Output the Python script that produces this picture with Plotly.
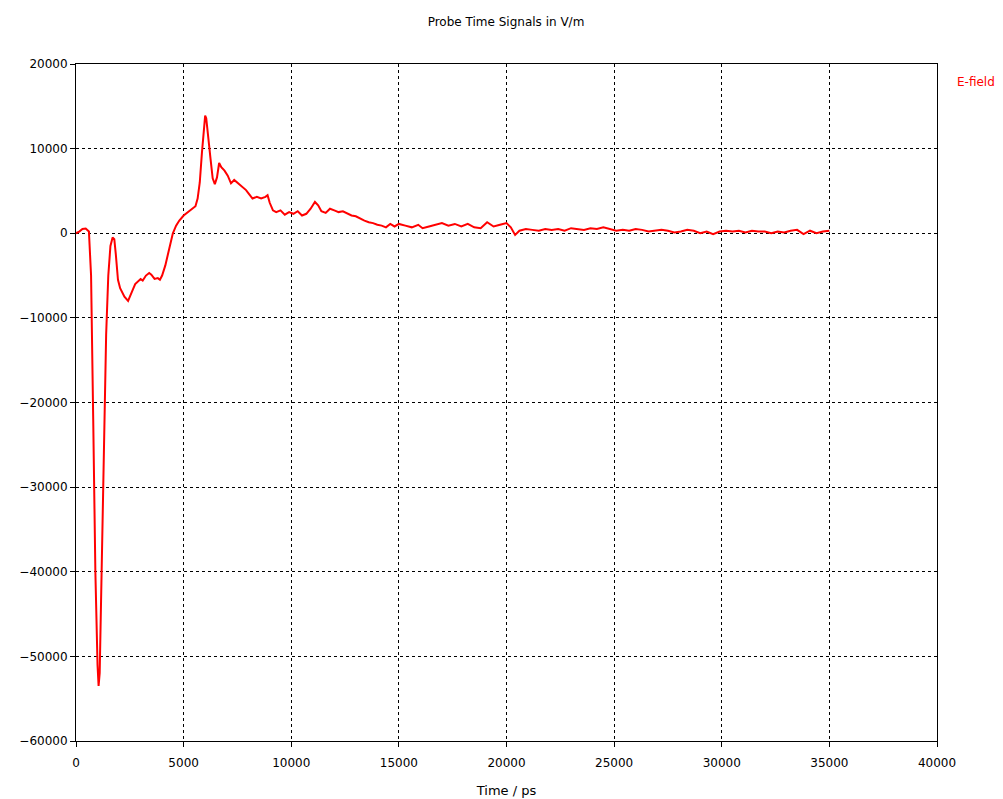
import plotly.graph_objects as go

time_ps = [0, 150, 300, 450, 600, 700, 800, 900, 1000, 1050, 1100, 1200, 1300, 1400, 1500, 1600, 1700, 1780, 1850, 1950, 2050, 2150, 2250, 2420, 2550, 2650, 2750, 2850, 3000, 3100, 3250, 3400, 3500, 3650, 3800, 3900, 4000, 4150, 4300, 4400, 4500, 4650, 4800, 5000, 5200, 5400, 5550, 5650, 5750, 5850, 5950, 6000, 6050, 6150, 6250, 6350, 6450, 6550, 6650, 6750, 6900, 7050, 7200, 7350, 7550, 7750, 7900, 8050, 8200, 8400, 8600, 8800, 8900, 9000, 9150, 9300, 9500, 9700, 9900, 10100, 10300, 10500, 10700, 10900, 11100, 11250, 11400, 11600, 11800, 12000, 12200, 12400, 12600, 12800, 13000, 13200, 13400, 13600, 13800, 14000, 14200, 14400, 14600, 14800, 15000, 15300, 15600, 15900, 16100, 16400, 16700, 17000, 17300, 17600, 17900, 18200, 18500, 18800, 19100, 19400, 19700, 20000, 20200, 20400, 20600, 20900, 21200, 21500, 21800, 22100, 22400, 22700, 23000, 23300, 23600, 23900, 24200, 24500, 24800, 25100, 25400, 25700, 26000, 26300, 26600, 26900, 27200, 27500, 27800, 28100, 28400, 28700, 29000, 29300, 29600, 29900, 30200, 30500, 30800, 31100, 31400, 31700, 32000, 32300, 32600, 32900, 33200, 33500, 33800, 34100, 34400, 34700, 35000]

efield_vm = [0, 200, 500, 550, 200, -5000, -22000, -40000, -51000, -53500, -52000, -40000, -25000, -12000, -5000, -1500, -500, -700, -2500, -5500, -6500, -7000, -7500, -8000, -7300, -6600, -6000, -5800, -5400, -5600, -5000, -4700, -4900, -5400, -5300, -5500, -5000, -3800, -2200, -1200, 0, 900, 1500, 2100, 2500, 2900, 3200, 4100, 6000, 9500, 12500, 13900, 13600, 11500, 8800, 6500, 5800, 6600, 8300, 7800, 7400, 6800, 5900, 6300, 5900, 5400, 5100, 4600, 4100, 4300, 4100, 4300, 4500, 3600, 2700, 2500, 2700, 2200, 2500, 2300, 2600, 2100, 2300, 2900, 3700, 3300, 2600, 2400, 2900, 2700, 2500, 2600, 2300, 2100, 2000, 1700, 1500, 1300, 1200, 1000, 900, 700, 1100, 800, 1100, 900, 700, 1000, 600, 800, 1000, 1200, 900, 1100, 800, 1100, 700, 600, 1300, 800, 1000, 1200, 700, -200, 300, 500, 400, 300, 500, 400, 500, 300, 600, 500, 400, 600, 500, 700, 500, 300, 400, 300, 500, 400, 200, 300, 400, 300, 100, 200, 400, 300, 0, 200, -100, 200, 300, 200, 300, 100, 300, 200, 200, 0, 200, 100, 300, 400, -100, 300, 0, 200, 300, 200]

fig = go.Figure()
fig.add_trace(go.Scatter(
    x=time_ps, y=efield_vm, mode="lines", name="E-field",
    line=dict(color="#ff0000", width=2), showlegend=False,
))

axis_common = dict(
    showline=True, linecolor="#000000", linewidth=1, mirror=True,
    showgrid=True, gridcolor="#000000", gridwidth=1, griddash="3px,3px",
    zeroline=False, ticks="outside", ticklen=5, tickcolor="#000000",
    tickfont=dict(family="DejaVu Sans", size=12, color="#000000"),
    automargin=False,
)

fig.update_layout(
    width=1003, height=799,
    margin=dict(l=76, r=66, t=64, b=58),
    paper_bgcolor="#ffffff", plot_bgcolor="#ffffff",
    title=dict(text="Probe Time Signals in V/m", x=506/1003, xanchor="center",
               y=1 - 22/799, yanchor="middle",
               font=dict(family="DejaVu Sans", size=12, color="#000000")),
    xaxis=dict(range=[0, 40000], dtick=5000, tickformat="d", ticklabelstandoff=6,
               title=dict(text="Time / ps", standoff=16,
                          font=dict(family="DejaVu Sans", size=13, color="#000000")),
               **axis_common),
    yaxis=dict(range=[-60000, 20000], dtick=10000, tickformat="d", **axis_common),
    annotations=[dict(text="E-field", xref="paper", yref="paper",
                      x=1.0 + 18/861, y=1 - 18/677, xanchor="left", yanchor="middle",
                      showarrow=False,
                      font=dict(family="DejaVu Sans", size=12, color="#ff0000"))],
)

fig.write_html("out.html")
